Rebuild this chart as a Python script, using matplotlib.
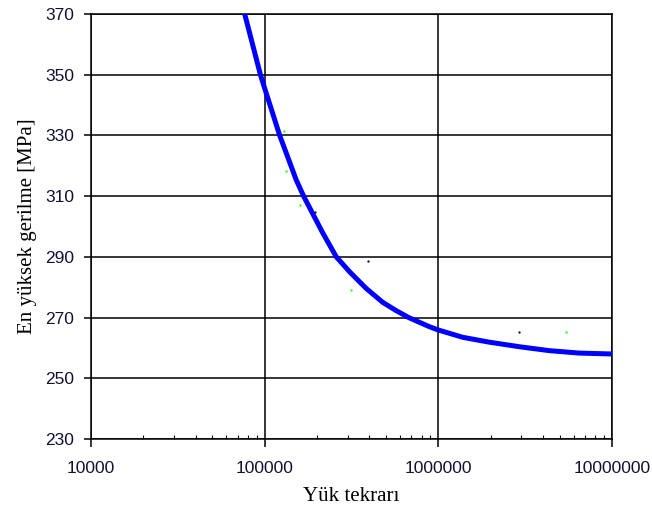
import matplotlib
matplotlib.use('Agg')
import matplotlib.pyplot as plt
from matplotlib.ticker import LogLocator, FixedLocator, NullFormatter

# curve
cycles = [76700, 94500, 100000, 122000, 152000, 167500, 216300, 258300,
          308000, 384000, 478500, 571000, 675000, 887000, 1000000,
          1380000, 1960000, 2920000, 4350000, 6460000, 10000000]
stress = [370, 350, 345.5, 330, 315.3, 310, 297.8, 290,
          285.1, 279.6, 275.0, 272.3, 270, 267.0, 265.9,
          263.5, 261.9, 260.4, 259.1, 258.3, 258.0]

# stray dots in the original
green_x = [128500, 132000, 159000, 316000, 5440000]
green_y = [331.5, 318.3, 307.1, 279.1, 265.3]
black_x = [196000, 391000, 2920000]
black_y = [304.8, 288.6, 265.3]

y_ticks = [230, 250, 270, 290, 310, 330, 350, 370]
x_ticks = [10000, 100000, 1000000, 10000000]

fig = plt.figure(figsize=(6.52, 5.12), dpi=100)
ax = fig.add_axes([0.1396, 0.1426, 0.7991, 0.8301])

ax.plot(cycles, stress, color='#0000ff', lw=3.6, solid_joinstyle='round', zorder=3)
ax.scatter(green_x, green_y, s=3, color='#33ff33', zorder=4, linewidths=0)
ax.scatter(black_x, black_y, s=3, color='#222222', zorder=4, linewidths=0)

ax.set_xscale('log')
ax.set_xlim(10000, 10000000)
ax.set_ylim(230, 370)

ax.xaxis.set_major_locator(FixedLocator(x_ticks))
ax.set_xticklabels([str(v) for v in x_ticks])
ax.xaxis.set_minor_locator(LogLocator(base=10, subs=range(2, 10)))
ax.xaxis.set_minor_formatter(NullFormatter())
ax.set_yticks(y_ticks)

ax.grid(True, which='major', color='black', lw=1.1)
for s in ax.spines.values():
    s.set_color('black')
    s.set_linewidth(1.1)

ax.tick_params(axis='y', direction='out', length=5, width=1.1, labelsize=12.5, pad=7)
ax.tick_params(axis='x', which='major', direction='out', length=6, width=1.1, labelsize=12.5, pad=10)
ax.tick_params(axis='x', which='minor', direction='in', length=3, width=0.8)
for lab in ax.get_xticklabels() + ax.get_yticklabels():
    lab.set_family('Liberation Sans')
    lab.set_color('#111133')

ax.set_xlabel('Yük tekrarı', family='Liberation Serif', fontsize=15, labelpad=8)
ax.set_ylabel('En yüksek gerilme [MPa]', family='Liberation Serif', fontsize=15, labelpad=6)

fig.savefig('out.png', dpi=100)
